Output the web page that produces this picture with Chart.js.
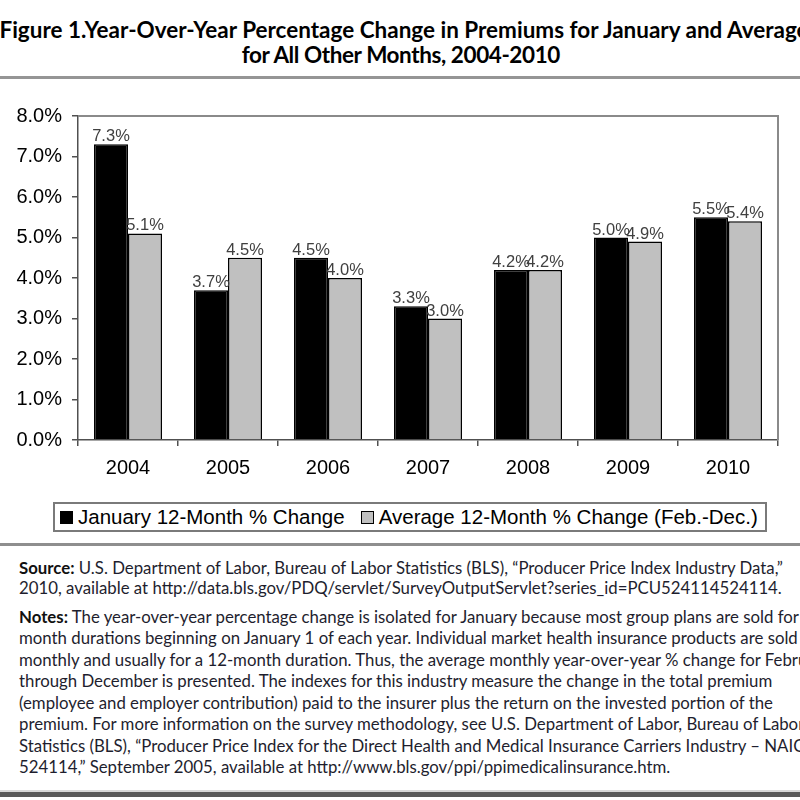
<!DOCTYPE html>
<html><head><meta charset="utf-8">
<script src="https://cdn.jsdelivr.net/npm/chart.js@4.4.0/dist/chart.umd.min.js"></script>
<style>
html,body{margin:0;padding:0;background:#fff;width:800px;height:800px;overflow:hidden;position:relative;}
.abs{position:absolute;}
.title{left:-200px;width:1200px;text-align:center;font-family:Lato,"Noto Sans",sans-serif;font-weight:bold;color:#000;white-space:nowrap;}
.note{left:19px;white-space:nowrap;font-family:Lato,"Noto Sans",sans-serif;color:#1e1e2e;}
.note b{font-weight:bold;color:#111;}
#legend{left:53px;top:502px;width:714px;height:30px;box-sizing:border-box;border:2px solid #7a7a7a;display:flex;align-items:center;font-family:"Liberation Sans",Arial,sans-serif;font-size:20.5px;color:#000;white-space:nowrap;padding-left:5px;}
.sw{display:inline-block;width:13px;height:13px;box-sizing:border-box;margin-right:5px;}
.item{display:flex;align-items:center;margin-right:16px;}
#chartWrap{left:0;top:85px;width:800px;height:410px;}
</style>
</head><body>
<div id="t1" class="abs title"></div>
<div id="t2" class="abs title"></div>
<div class="abs" style="left:0;top:76px;width:800px;height:3px;background:#959595"></div>
<div id="chartWrap" class="abs"><canvas id="c" width="800" height="410"></canvas></div>
<div id="legend" class="abs"></div>
<div class="abs" style="left:0;top:543px;width:800px;height:3px;background:#8e8e8e"></div>
<div id="notes"></div>
<div class="abs" style="left:0;top:790px;width:800px;height:2px;background:#d8d8d8"></div>
<div class="abs" style="left:0;top:792px;width:800px;height:5px;background:#5a5a5a"></div>
<script>
// ---- data ----
const categories = ['2004','2005','2006','2007','2008','2009','2010'];
const january = [7.3, 3.7, 4.5, 3.3, 4.2, 5.0, 5.5];
const average = [5.1, 4.5, 4.0, 3.0, 4.2, 4.9, 5.4];
const yTickLabels = ['0.0%','1.0%','2.0%','3.0%','4.0%','5.0%','6.0%','7.0%','8.0%'];
const seriesNames = ['January 12-Month % Change', 'Average 12-Month % Change (Feb.-Dec.)'];
const titleLines = ['Figure 1.Year-Over-Year Percentage Change in Premiums for January and Average', 'for All Other Months, 2004-2010'];
const noteLines = [
  ['Source:', ' U.S. Department of Labor, Bureau of Labor Statistics (BLS), \u201cProducer Price Index Industry Data,\u201d'],
  ['', '2010, available at http://data.bls.gov/PDQ/servlet/SurveyOutputServlet?series_id=PCU524114524114.'],
  ['Notes:', ' The year-over-year percentage change is isolated for January because most group plans are sold for 12-'],
  ['', 'month durations beginning on January 1 of each year. Individual market health insurance products are sold'],
  ['', 'monthly and usually for a 12-month duration. Thus, the average monthly year-over-year % change for February'],
  ['', 'through December is presented. The indexes for this industry measure the change in the total premium'],
  ['', '(employee and employer contribution) paid to the insurer plus the return on the invested portion of the'],
  ['', 'premium. For more information on the survey methodology, see U.S. Department of Labor, Bureau of Labor'],
  ['', 'Statistics (BLS), \u201cProducer Price Index for the Direct Health and Medical Insurance Carriers Industry \u2013 NAICS'],
  ['', '524114,\u201d September 2005, available at http://www.bls.gov/ppi/ppimedicalinsurance.htm.']
];
const noteY = [568, 588, 617, 638.5, 660, 681.5, 703, 724.5, 746, 767.5];

// ---- text fitting helpers ----
const mc = document.createElement('canvas').getContext('2d');
function w(txt, weight, size, fam){ mc.font = weight+' '+size+'px '+fam; return mc.measureText(txt).width; }
const FAM = 'Lato';

// title: one font size for both lines, second line slightly tightened
const ts = 20 * 812 / w(titleLines[0],'bold',20,FAM);
function placeTitle(id, txt, targetW, cx, cy){
  const el = document.getElementById(id);
  el.textContent = txt;
  el.style.fontSize = ts+'px';
  el.style.lineHeight = ts+'px';
  const nat = w(txt,'bold',ts,FAM);
  const ls = Math.max(-0.4, (targetW - nat) / txt.length);
  el.style.letterSpacing = ls+'px';
  el.style.top = (cy - ts/2)+'px';
  el.style.left = (cx - 600 + ls/2)+'px';
}
placeTitle('t1', titleLines[0], 812, 404, 30);
placeTitle('t2', titleLines[1], 300, 401, 55);

// notes
const l0 = w(noteLines[0][0],'bold',16,FAM) + w(noteLines[0][1],'normal',16,FAM);
const ns = 16 * 766 / l0;
const notesEl = document.getElementById('notes');
noteLines.forEach((ln,i)=>{
  const d = document.createElement('div');
  d.className = 'abs note';
  d.style.fontSize = ns+'px';
  d.style.lineHeight = ns+'px';
  d.style.top = (noteY[i] - ns/2)+'px';
  if (ln[0]) { const b = document.createElement('b'); b.textContent = ln[0]; d.appendChild(b); }
  d.appendChild(document.createTextNode(ln[1]));
  notesEl.appendChild(d);
});

// legend
const legendColors = [['#000','#000'],['#c0c0c0','#000']];
const lg = document.getElementById('legend');
seriesNames.forEach((n,i)=>{
  const it = document.createElement('span'); it.className='item';
  const sw = document.createElement('span'); sw.className='sw';
  sw.style.background = legendColors[i][0];
  sw.style.border = '1.5px solid '+legendColors[i][1];
  it.appendChild(sw);
  it.appendChild(document.createTextNode(n));
  lg.appendChild(it);
});

// ---- chart ----
const framePlugin = {
  id:'frame',
  afterDraw(chart){
    const {ctx, chartArea:a} = chart;
    ctx.save();
    ctx.strokeStyle = '#8a8a8a'; ctx.lineWidth = 2;
    ctx.beginPath();
    ctx.moveTo(a.left, a.top); ctx.lineTo(a.right, a.top); ctx.lineTo(a.right, a.bottom);
    ctx.stroke();
    ctx.restore();
  }
};
const valueLabels = {
  id:'valueLabels',
  afterDatasetsDraw(chart){
    const ctx = chart.ctx;
    ctx.save();
    ctx.font = '16.5px "Liberation Sans", Arial, sans-serif';
    ctx.fillStyle = '#404040';
    ctx.textAlign = 'center';
    ctx.textBaseline = 'alphabetic';
    chart.data.datasets.forEach((ds,di)=>{
      chart.getDatasetMeta(di).data.forEach((bar,i)=>{
        ctx.fillText(ds.data[i].toFixed(1)+'%', bar.x, bar.y - 3);
      });
    });
    ctx.restore();
  }
};
const tickFont = {family:'"Liberation Sans", Arial, sans-serif', size:20};
new Chart(document.getElementById('c'), {
  type:'bar',
  data:{
    labels:categories,
    datasets:[
      {label:seriesNames[0], data:january, backgroundColor:'#000', borderColor:'#000', borderWidth:1.5, categoryPercentage:0.68, barPercentage:1},
      {label:seriesNames[1], data:average, backgroundColor:'#c0c0c0', borderColor:'#000', borderWidth:1.5, categoryPercentage:0.68, barPercentage:1}
    ]
  },
  options:{
    responsive:false, animation:false,
    layout:{padding:{top:31, left:0, right:22, bottom:0}},
    plugins:{legend:{display:false}, title:{display:false}, tooltip:{enabled:false}},
    scales:{
      x:{
        grid:{offset:true, drawOnChartArea:false, drawTicks:true, tickLength:6, color:'#505050', lineWidth:1.5},
        border:{color:'#505050', width:1.5},
        ticks:{font:tickFont, color:'#000', padding:10},
        afterFit(s){ s.height = 55; }
      },
      y:{
        min:0, max:8,
        grid:{drawOnChartArea:false, drawTicks:true, tickLength:6, color:'#505050', lineWidth:1.5},
        border:{color:'#505050', width:1.5},
        ticks:{stepSize:1, font:tickFont, color:'#000', padding:10, callback:(v,i)=>yTickLabels[i]},
        afterFit(s){ s.width = 78; }
      }
    }
  },
  plugins:[framePlugin, valueLabels]
});
</script>
</body></html>
